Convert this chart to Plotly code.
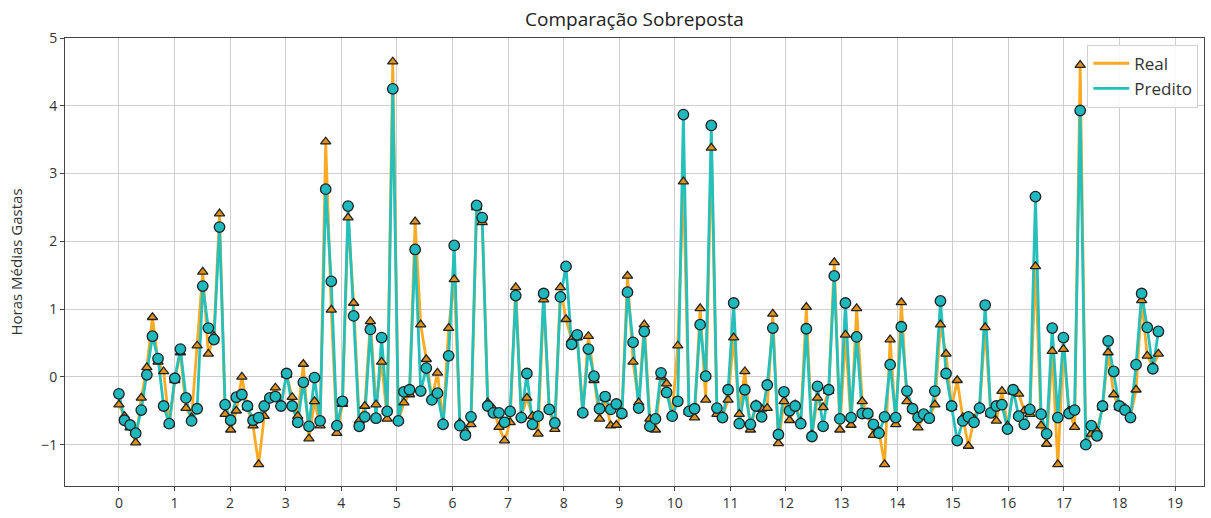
import numpy as np
import plotly.graph_objects as go

predito = [-0.25, -0.64, -0.71, -0.83, -0.49, 0.03, 0.60, 0.27, -0.43, -0.69,
           -0.02, 0.41, -0.31, -0.65, -0.47, 1.34, 0.72, 0.55, 2.21, -0.41,
           -0.64, -0.30, -0.26, -0.43, -0.64, -0.60, -0.43, -0.31, -0.29, -0.43,
           0.05, -0.43, -0.67, -0.08, -0.73, -0.01, -0.65, 2.77, 1.41, -0.72,
           -0.36, 2.52, 0.90, -0.73, -0.59, 0.70, -0.61, 0.58, -0.51, 4.25,
           -0.65, -0.22, -0.19, 1.88, -0.21, 0.13, -0.34, -0.24, -0.70, 0.31,
           1.94, -0.72, -0.86, -0.59, 2.53, 2.35, -0.43, -0.53, -0.53, -0.67,
           -0.51, 1.20, -0.60, 0.05, -0.70, -0.58, 1.23, -0.48, -0.68, 1.18,
           1.63, 0.48, 0.62, -0.53, 0.41, 0.01, -0.47, -0.29, -0.48, -0.40,
           -0.54, 1.25, 0.51, -0.46, 0.67, -0.73, -0.62, 0.06, -0.23, -0.58,
           -0.36, 3.87, -0.51, -0.47, 0.77, 0.01, 3.71, -0.46, -0.60, -0.19,
           1.09, -0.69, -0.19, -0.70, -0.43, -0.59, -0.12, 0.72, -0.85, -0.22,
           -0.50, -0.43, -0.69, 0.71, -0.88, -0.14, -0.73, -0.19, 1.49, -0.62,
           1.09, -0.60, 0.59, -0.54, -0.54, -0.70, -0.83, -0.59, 0.18, -0.60,
           0.74, -0.21, -0.47, -0.60, -0.55, -0.61, -0.21, 1.12, 0.05, -0.43,
           -0.94, -0.65, -0.59, -0.67, -0.46, 1.06, -0.53, -0.43, -0.41, -0.77,
           -0.19, -0.58, -0.70, -0.48, 2.66, -0.55, -0.84, 0.72, -0.60, 0.58,
           -0.54, -0.49, 3.93, -1.00, -0.72, -0.87, -0.43, 0.53, 0.08, -0.43,
           -0.49, -0.60, 0.18, 1.23, 0.73, 0.12, 0.67]

real = [-0.41, -0.58, -0.75, -0.97, -0.31, 0.14, 0.88, 0.22, 0.08, -0.70,
        -0.05, 0.36, -0.46, -0.60, 0.46, 1.55, 0.34, 0.60, 2.41, -0.55,
        -0.78, -0.50, 0.00, -0.45, -0.72, -1.29, -0.58, -0.31, -0.16, -0.41,
        0.03, -0.30, -0.58, 0.19, -0.91, -0.36, -0.72, 3.47, 0.99, -0.83,
        -0.40, 2.35, 1.09, -0.65, -0.43, 0.82, -0.41, 0.22, -0.62, 4.65,
        -0.65, -0.38, -0.26, 2.29, 0.77, 0.26, -0.32, 0.06, -0.68, 0.72,
        1.44, -0.68, -0.80, -0.70, 2.50, 2.28, -0.38, -0.47, -0.74, -0.94,
        -0.67, 1.32, -0.58, -0.31, -0.58, -0.84, 1.14, -0.48, -0.77, 1.32,
        0.85, 0.55, 0.58, -0.53, 0.60, -0.05, -0.62, -0.31, -0.72, -0.71,
        -0.55, 1.49, 0.22, -0.38, 0.77, -0.62, -0.78, 0.00, -0.10, -0.56,
        0.46, 2.88, -0.52, -0.60, 1.01, -0.34, 3.38, -0.55, -0.58, -0.34,
        0.58, -0.55, 0.08, -0.78, -0.41, -0.47, -0.46, 0.93, -0.98, -0.36,
        -0.64, -0.41, -0.66, 1.03, -0.85, -0.31, -0.45, -0.21, 1.69, -0.78,
        0.62, -0.71, 1.01, -0.36, -0.55, -0.86, -0.80, -1.29, 0.55, -0.70,
        1.10, -0.36, -0.48, -0.75, -0.57, -0.60, -0.41, 0.77, 0.34, -0.45,
        -0.05, -0.60, -1.02, -0.62, -0.44, 0.73, -0.55, -0.65, -0.21, -0.72,
        -0.22, -0.25, -0.50, -0.55, 1.63, -0.72, -0.99, 0.38, -1.29, 0.41,
        -0.50, -0.74, 4.60, -0.98, -0.84, -0.80, -0.45, 0.36, -0.26, -0.45,
        -0.46, -0.58, -0.19, 1.13, 0.31, 0.15, 0.34]

x_ticks = list(range(0, 20))
y_ticks = [-1, 0, 1, 2, 3, 4, 5]
x_first, x_last = 0.0, 18.7  # sample positions span on the x axis

x = np.linspace(x_first, x_last, len(real))

ORANGE = "rgb(250,170,35)"
TEAL = "rgb(38,192,188)"
FONT = "Open Sans"

fig = go.Figure()
fig.add_trace(go.Scatter(x=x, y=real, mode="lines", name="Real",
                         line=dict(color=ORANGE, width=2.8)))
fig.add_trace(go.Scatter(x=x, y=predito, mode="lines", name="Predito",
                         line=dict(color=TEAL, width=2.8)))
fig.add_trace(go.Scatter(x=x, y=real, mode="markers", showlegend=False,
                         marker=dict(symbol="triangle-up", size=9, color="rgb(225,145,25)",
                                     line=dict(color="#222", width=1.3))))
fig.add_trace(go.Scatter(x=x, y=predito, mode="markers", showlegend=False,
                         marker=dict(symbol="circle", size=10.5, color="rgb(30,185,190)",
                                     line=dict(color="#222", width=1.3))))

axis_common = dict(showline=True, mirror=True, linecolor="#444", linewidth=1,
                   showgrid=True, gridcolor="#cfcfcf", gridwidth=1, zeroline=False,
                   ticks="outside", ticklen=4, tickcolor="#444",
                   tickfont=dict(family=FONT, size=14, color="#333"))

fig.update_layout(
    width=1211, height=518,
    margin=dict(l=65, r=6, t=38, b=21),
    paper_bgcolor="white", plot_bgcolor="white",
    title=dict(text="Comparação Sobreposta", x=0.5, xref="paper",
               y=1 - 19 / 518, yref="container", yanchor="middle",
               font=dict(family=FONT, size=19, color="#222")),
    xaxis=dict(range=[-0.97, 19.52], tickvals=x_ticks, **axis_common),
    yaxis=dict(range=[-1.61, 5.0], tickvals=y_ticks,
               title=dict(text="Horas Médias Gastas", font=dict(family=FONT, size=15, color="#333"),
                          standoff=14),
               **axis_common),
    legend=dict(x=0.995, y=0.985, xanchor="right", yanchor="top",
                bgcolor="rgba(255,255,255,0.85)", bordercolor="#d0d0d0", borderwidth=1,
                font=dict(family=FONT, size=17, color="#333"),
                itemwidth=36, tracegroupgap=2),
    showlegend=True,
)

fig.write_html("out.html")
